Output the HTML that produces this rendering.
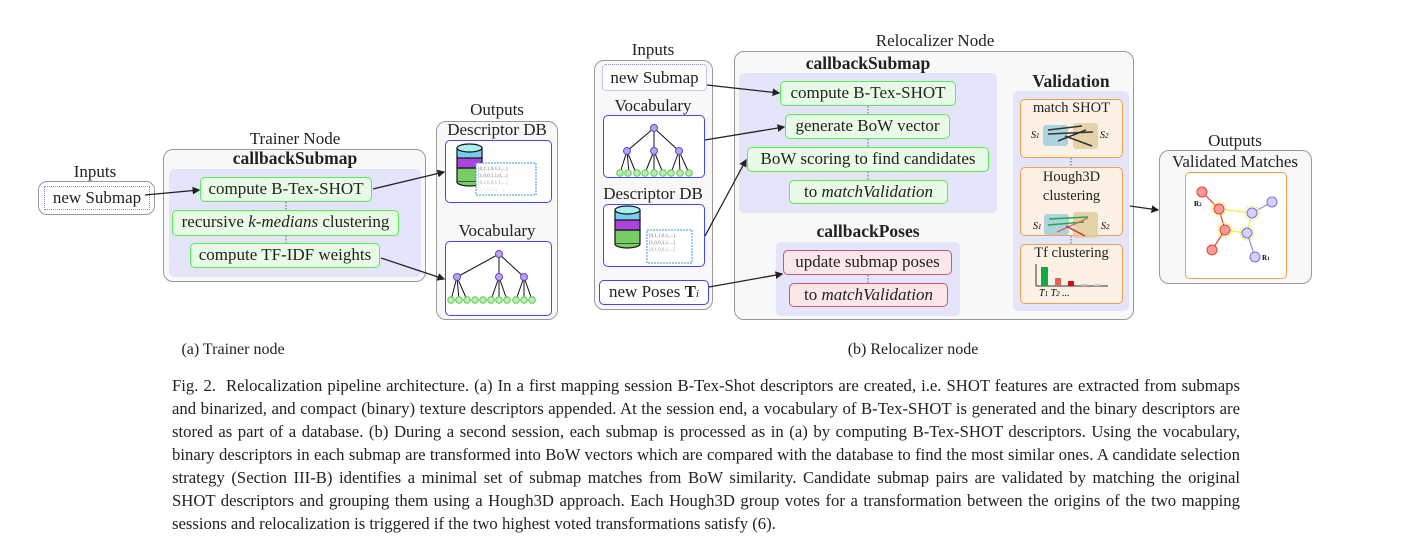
<!DOCTYPE html>
<html><head><meta charset="utf-8"><style>
body{margin:0;width:1411px;height:546px;background:#fff;position:relative;overflow:hidden;font-family:"Liberation Serif",serif;color:#222}
.a{position:absolute;box-sizing:border-box}
.t{position:absolute;white-space:nowrap;transform:translateX(-50%);font-size:17px;line-height:18px}
.outer{border:1.5px solid #999;border-radius:10px;background:#f8f8f8}
.lav{background:#e4e4fb;border-radius:5px}
.g{border:1.5px solid #5e5;background:#e8fbe6;border-radius:5px;font-size:17px;text-align:center;line-height:22px;white-space:nowrap}
.p{border:1.5px solid #c57;background:#fbe6ea;border-radius:5px;font-size:17px;text-align:center;line-height:22px;white-space:nowrap}
.o{border:1.5px solid #f5a050;background:#fdf0e4;border-radius:5px;font-size:14.5px;text-align:center;line-height:17px}
.b{border:1.5px solid #44f;background:#fff;border-radius:5px}
.bold{font-weight:bold;font-size:17.5px}
.cap{position:absolute;left:172px;width:1068px;font-size:16.7px;line-height:23px;top:374px}
.cap div{text-align:justify;text-align-last:justify;height:23px;overflow:hidden}
.cap div.l{text-align-last:left}
</style></head><body>
<div class="t" style="left:95px;top:163px">Inputs</div>
<div class="a outer" style="left:38px;top:181px;width:117px;height:34px;border-radius:9px;background:#fff"></div>
<div class="a" style="left:44px;top:186px;width:106px;height:24px;border:1px dotted #88f;font-size:17px;text-align:center;line-height:22px">new Submap</div>
<div class="t" style="left:295px;top:130px">Trainer Node</div>
<div class="a outer" style="left:163px;top:149px;width:263px;height:133px"></div>
<div class="t bold" style="left:295px;top:149px">callbackSubmap</div>
<div class="a lav" style="left:169px;top:169px;width:252px;height:108px"></div>
<div class="a g" style="left:200px;top:177px;width:172px;height:25px">compute B-Tex-SHOT</div>
<div class="a g" style="left:172px;top:210px;width:227px;height:26px">recursive <i>k-medians</i> clustering</div>
<div class="a g" style="left:190px;top:243px;width:190px;height:25px">compute TF-IDF weights</div>
<div class="t" style="left:497px;top:101px">Outputs</div>
<div class="a outer" style="left:436px;top:121px;width:122px;height:199px"></div>
<div class="t" style="left:497px;top:121px">Descriptor DB</div>
<div class="a b" style="left:445px;top:140px;width:107px;height:63px"></div>
<div class="t" style="left:497px;top:222px">Vocabulary</div>
<div class="a b" style="left:445px;top:241px;width:107px;height:75px"></div>
<div class="t" style="left:653px;top:41px">Inputs</div>
<div class="a outer" style="left:594px;top:60px;width:119px;height:250px"></div>
<div class="a" style="left:602px;top:64px;width:105px;height:27px;border:1px dotted #88f;background:#fff;border-radius:4px;font-size:17px;text-align:center;line-height:25px">new Submap</div>
<div class="t" style="left:653px;top:97px">Vocabulary</div>
<div class="a b" style="left:603px;top:115px;width:102px;height:63px"></div>
<div class="t" style="left:653px;top:185px">Descriptor DB</div>
<div class="a b" style="left:603px;top:204px;width:102px;height:63px"></div>
<div class="a b" style="left:599px;top:280px;width:110px;height:25px;font-size:17px;text-align:center;line-height:22px">new Poses <b>T</b><i style="font-size:11px">i</i></div>
<div class="t" style="left:935px;top:32px">Relocalizer Node</div>
<div class="a outer" style="left:734px;top:51px;width:400px;height:269px"></div>
<div class="t bold" style="left:868px;top:54px">callbackSubmap</div>
<div class="a lav" style="left:739px;top:73px;width:258px;height:140px"></div>
<div class="a g" style="left:780px;top:81px;width:176px;height:25px">compute B-Tex-SHOT</div>
<div class="a g" style="left:785px;top:114px;width:165px;height:25px">generate BoW vector</div>
<div class="a g" style="left:747px;top:147px;width:242px;height:25px">BoW scoring to find candidates</div>
<div class="a g" style="left:789px;top:180px;width:159px;height:24px">to <i>matchValidation</i></div>
<div class="t bold" style="left:868px;top:222px">callbackPoses</div>
<div class="a lav" style="left:776px;top:242px;width:184px;height:74px"></div>
<div class="a p" style="left:783px;top:250px;width:169px;height:25px">update submap poses</div>
<div class="a p" style="left:789px;top:283px;width:159px;height:24px">to <i>matchValidation</i></div>
<div class="t bold" style="left:1071px;top:72px">Validation</div>
<div class="a lav" style="left:1013px;top:91px;width:116px;height:220px"></div>
<div class="a o" style="left:1020px;top:99px;width:103px;height:59px">match SHOT</div>
<div class="a o" style="left:1020px;top:167px;width:103px;height:69px;line-height:19px">Hough3D<br>clustering</div>
<div class="a o" style="left:1020px;top:244px;width:103px;height:60px">Tf clustering</div>
<div class="t" style="left:1235px;top:132px">Outputs</div>
<div class="a outer" style="left:1159px;top:150px;width:153px;height:134px"></div>
<div class="t" style="left:1235px;top:153px">Validated Matches</div>
<div class="a" style="left:1185px;top:172px;width:102px;height:107px;border:1.5px solid #f5a050;border-radius:5px;background:#fff"></div>

<svg class="a" style="left:0;top:0" width="1411" height="546">
<defs><marker id="ar" markerWidth="6" markerHeight="6" refX="5" refY="3" orient="auto"><path d="M0,0L6,3L0,6z" fill="#222"/></marker></defs>
<g stroke="#222" stroke-width="1.3" fill="none" marker-end="url(#ar)">
<line x1="145" y1="195" x2="199" y2="190"/>
<line x1="373" y1="189" x2="444" y2="172"/>
<line x1="381" y1="258" x2="444" y2="279"/>
<line x1="707" y1="85" x2="779" y2="93"/>
<line x1="705" y1="140" x2="784" y2="127"/>
<line x1="705" y1="236" x2="746" y2="160"/>
<line x1="709" y1="287" x2="782" y2="274"/>
<line x1="1130" y1="206" x2="1158" y2="210"/>
</g>
<g stroke="#444" stroke-width="0.8" stroke-dasharray="1.5,1.5">
<line x1="286" y1="202" x2="286" y2="210"/><line x1="286" y1="236" x2="286" y2="243"/>
<line x1="868" y1="106" x2="868" y2="114"/><line x1="868" y1="139" x2="868" y2="147"/><line x1="868" y1="172" x2="868" y2="180"/>
<line x1="868" y1="275" x2="868" y2="283"/>
<line x1="1071" y1="158" x2="1071" y2="167"/><line x1="1071" y1="236" x2="1071" y2="244"/>
</g>
<g stroke="#111" stroke-width="1.2">
<rect x="457" y="168" width="25" height="14" fill="#7c6"/><rect x="457" y="157" width="25" height="11" fill="#a4d"/><rect x="457" y="148" width="25" height="10" fill="#7ce"/>
<ellipse cx="469.5" cy="148" rx="12.5" ry="4" fill="#aee"/><path d="M457,182a12.5,4 0 0 0 25,0" fill="#7c6"/>
</g>
<rect x="476" y="163" width="60" height="32" fill="#fff" stroke="#39d" stroke-dasharray="2,1"/>
<g font-size="5" fill="#777" font-family="Liberation Serif"><text x="478" y="170">[0,1,1,0,1,1,...]</text><text x="478" y="177">[1,0,0,1,1,0,...]</text><text x="478" y="184" fill="#aaa">[0,1,0,0,1,1,...]</text><text x="478" y="191" fill="#ddd">[1,1,0,1,0,...]</text></g>
<g stroke="#111" stroke-width="1.2">
<rect x="615" y="230" width="25" height="14" fill="#7c6"/><rect x="615" y="219" width="25" height="11" fill="#a4d"/><rect x="615" y="210" width="25" height="10" fill="#7ce"/>
<ellipse cx="627.5" cy="210" rx="12.5" ry="4" fill="#aee"/><path d="M615,244a12.5,4 0 0 0 25,0" fill="#7c6"/>
</g>
<rect x="647" y="230" width="45" height="33" fill="#fff" stroke="#39d" stroke-dasharray="2,1"/>
<g font-size="5" fill="#777" font-family="Liberation Serif"><text x="649" y="237">[0,1,1,0,1,...]</text><text x="649" y="244">[1,0,0,1,1,...]</text><text x="649" y="251" fill="#aaa">[0,1,0,0,1,...]</text></g>
<g stroke="#111" stroke-width="1">
<path d="M499,254L457,277M499,254L499,277M499,254L524,277M457,277L451,300M457,277L459,300M457,277L467,300M499,277L491,300M499,277L499,300M499,277L507,300M524,277L516,300M524,277L524,300M524,277L532,300"/>
</g>
<g fill="#bbeeaa" stroke="#5c5"><circle cx="451" cy="300" r="3.3"/><circle cx="459" cy="300" r="3.3"/><circle cx="467" cy="300" r="3.3"/><circle cx="475" cy="300" r="3.3"/><circle cx="483" cy="300" r="3.3"/><circle cx="491" cy="300" r="3.3"/><circle cx="499" cy="300" r="3.3"/><circle cx="507" cy="300" r="3.3"/><circle cx="516" cy="300" r="3.3"/><circle cx="524" cy="300" r="3.3"/><circle cx="532" cy="300" r="3.3"/></g>
<g fill="#b9a4ee" stroke="#64c"><circle cx="499" cy="254" r="3.5"/><circle cx="457" cy="277" r="3.5"/><circle cx="499" cy="277" r="3.5"/><circle cx="524" cy="277" r="3.5"/></g>
<g stroke="#111" stroke-width="1">
<path d="M654,128L627,151M654,128L654,151M654,128L679,151M627,151L620,173M627,151L629,173M627,151L636,173M654,151L645,173M654,151L654,173M654,151L663,173M679,151L671,173M679,151L680,173M679,151L689,173"/>
</g>
<g fill="#bbeeaa" stroke="#5c5"><circle cx="620" cy="173" r="3.3"/><circle cx="628" cy="173" r="3.3"/><circle cx="637" cy="173" r="3.3"/><circle cx="645" cy="173" r="3.3"/><circle cx="654" cy="173" r="3.3"/><circle cx="663" cy="173" r="3.3"/><circle cx="671" cy="173" r="3.3"/><circle cx="680" cy="173" r="3.3"/><circle cx="689" cy="173" r="3.3"/></g>
<g fill="#b9a4ee" stroke="#64c"><circle cx="654" cy="128" r="3.5"/><circle cx="627" cy="151" r="3.5"/><circle cx="654" cy="151" r="3.5"/><circle cx="679" cy="151" r="3.5"/></g>
<rect x="1043" y="125" width="25" height="21" rx="3" fill="#9cd" opacity=".8"/><rect x="1073" y="123" width="25" height="26" rx="3" fill="#dc9" opacity=".8"/>
<g stroke="#333" stroke-width="1.5"><line x1="1048" y1="130" x2="1082" y2="126"/><line x1="1048" y1="134" x2="1093" y2="132"/><line x1="1058" y1="141" x2="1086" y2="130"/><line x1="1065" y1="136" x2="1092" y2="146"/></g>
<g font-size="10" font-style="italic" font-family="Liberation Serif"><text x="1031" y="138">S<tspan font-size="7">1</tspan></text><text x="1100" y="138">S<tspan font-size="7">2</tspan></text>
<text x="1033" y="229">S<tspan font-size="7">1</tspan></text><text x="1101" y="229">S<tspan font-size="7">2</tspan></text>
<text x="1039" y="296">T<tspan font-size="7">1</tspan> T<tspan font-size="7">2</tspan> ...</text></g>
<rect x="1044" y="214" width="25" height="21" rx="3" fill="#9cd" opacity=".8"/><rect x="1073" y="212" width="25" height="26" rx="3" fill="#dc9" opacity=".8"/>
<g stroke-width="1.5"><line x1="1049" y1="219" x2="1088" y2="217" stroke="#2a4"/><line x1="1048" y1="225" x2="1084" y2="222" stroke="#2a4"/><line x1="1057" y1="232" x2="1088" y2="218" stroke="#d66"/><line x1="1066" y1="226" x2="1085" y2="236" stroke="#c33"/></g>
<g><line x1="1036" y1="264" x2="1036" y2="286" stroke="#333"/><line x1="1036" y1="286" x2="1108" y2="286" stroke="#333"/>
<rect x="1041" y="267" width="7" height="19" fill="#1a4"/><rect x="1055" y="278" width="6" height="8" fill="#d65"/><rect x="1068" y="281" width="6" height="5" fill="#c11"/><rect x="1081" y="284" width="6" height="2" fill="#cbb"/><rect x="1094" y="284" width="6" height="2" fill="#ccc"/></g>
<g stroke-width="1.2"><path d="M1202,192L1219,209L1225,230L1212,250" stroke="#d43" fill="none"/><path d="M1219,209L1252,213L1247,233L1225,230" stroke="#ee4" fill="none"/><path d="M1252,213L1272,202M1247,233L1255,257" stroke="#89d" fill="none"/></g>
<g fill="#f99" stroke="#d43"><circle cx="1202" cy="192" r="5"/><circle cx="1219" cy="209" r="5"/><circle cx="1225" cy="230" r="5"/><circle cx="1212" cy="250" r="5"/></g>
<g fill="#dcf" stroke="#67d"><circle cx="1252" cy="213" r="5"/><circle cx="1247" cy="233" r="5"/><circle cx="1272" cy="202" r="5"/><circle cx="1255" cy="257" r="5"/></g>
<g fill="none" stroke="#ee4" stroke-dasharray="2,1"><circle cx="1219" cy="209" r="7"/><circle cx="1225" cy="230" r="7"/><circle cx="1252" cy="213" r="7"/><circle cx="1247" cy="233" r="7"/></g>
<g font-size="7" font-weight="bold" font-family="Liberation Serif"><text x="1194" y="206">R<tspan font-size="5">2</tspan></text><text x="1262" y="260">R<tspan font-size="5">1</tspan></text></g>
</svg>

<div class="t" style="left:233px;top:341px;font-size:16px">(a) Trainer node</div>
<div class="t" style="left:913px;top:341px;font-size:16px">(b) Relocalizer node</div>
<div class="cap">
<div>Fig. 2.&nbsp; Relocalization pipeline architecture. (a) In a first mapping session B-Tex-Shot descriptors are created, i.e. SHOT features are extracted from submaps</div>
<div>and binarized, and compact (binary) texture descriptors appended. At the session end, a vocabulary of B-Tex-SHOT is generated and the binary descriptors are</div>
<div>stored as part of a database. (b) During a second session, each submap is processed as in (a) by computing B-Tex-SHOT descriptors. Using the vocabulary,</div>
<div>binary descriptors in each submap are transformed into BoW vectors which are compared with the database to find the most similar ones. A candidate selection</div>
<div>strategy (Section III-B) identifies a minimal set of submap matches from BoW similarity. Candidate submap pairs are validated by matching the original</div>
<div>SHOT descriptors and grouping them using a Hough3D approach. Each Hough3D group votes for a transformation between the origins of the two mapping</div>
<div class="l">sessions and relocalization is triggered if the two highest voted transformations satisfy (6).</div>
</div>
</body></html>
